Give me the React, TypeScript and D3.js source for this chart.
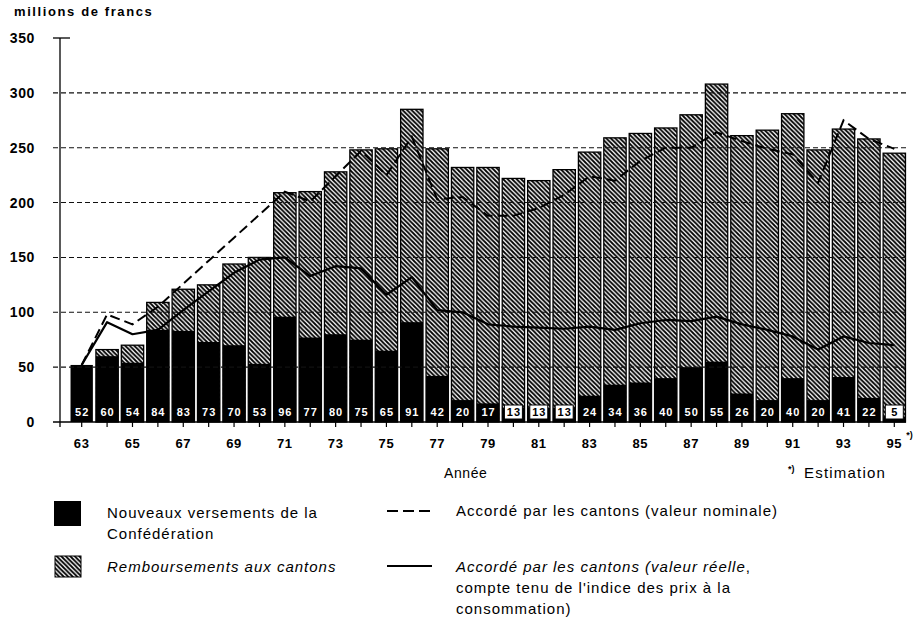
import * as d3 from 'd3'

// années 1963-1995 (95 = estimation)
const years = ['63', '64', '65', '66', '67', '68', '69', '70', '71', '72', '73', '74', '75', '76', '77', '78', '79',
  '80', '81', '82', '83', '84', '85', '86', '87', '88', '89', '90', '91', '92', '93', '94', '95']

// Nouveaux versements de la Confédération (mio fr.)
const newFed = [52, 60, 54, 84, 83, 73, 70, 53, 96, 77, 80, 75, 65, 91, 42, 20, 17, 13, 13, 13, 24, 34, 36, 40,
  50, 55, 26, 20, 40, 20, 41, 22, 5]

// Remboursements aux cantons (mio fr.)
const reimb = [0, 6, 16, 25, 38, 52, 74, 97, 113, 133, 148, 173, 184, 194, 207, 212, 215, 209, 207, 217, 222,
  225, 227, 228, 230, 253, 235, 246, 241, 228, 226, 236, 240]

// Accordé par les cantons, valeur nominale
const nominal = [52, 98, 89, 105, 126, 147, 168, 189, 210, 201, 224, 247, 225, 260, 203, 205, 188, 188, 195, 207,
  224, 220, 238, 250, 250, 264, 256, 249, 244, 218, 275, 258, 249]

// Accordé par les cantons, valeur réelle
const real = [52, 91, 80, 84, 102, 119, 136, 148, 150, 133, 142, 140, 116, 132, 102, 100, 89, 87, 86, 85, 87, 84,
  90, 93, 92, 96, 89, 84, 78, 66, 78, 72, 70]

const yTicks = [0, 50, 100, 150, 200, 250, 300, 350]
const gridValues = [50, 100, 150, 200, 250, 300]
const yearLabels = ['63', '65', '67', '69', '71', '73', '75', '77', '79', '81', '83', '85', '87', '89', '91', '93', '95']

const FONT = '"Liberation Sans", Arial, Helvetica, sans-serif'

export default function App() {
  const width = 921
  const height = 618

  const x = d3.scaleBand<string>().domain(years).range([69, 907]).paddingInner(0.12).paddingOuter(0.06)
  const y = d3.scaleLinear().domain([0, 350]).range([422, 38])
  const cx = (yr: string) => (x(yr) ?? 0) + x.bandwidth() / 2

  const line = d3.line<number>()
    .x((_, i) => cx(years[i]))
    .y(d => y(d))

  const axisLeft = 60
  const axisRight = 906

  return (
    <svg width={width} height={height} style={{ position: 'absolute', left: 0, top: 0, display: 'block', background: '#fff' }}
      fontFamily={FONT}>
      <defs>
        <pattern id="hatch" patternUnits="userSpaceOnUse" width={4.5} height={4.5}>
          <rect width={4.5} height={4.5} fill="#fff" />
          <path d="M-1,-1 L5.5,5.5 M-1,3.5 L1,5.5 M3.5,-1 L5.5,1" stroke="#000" strokeWidth={1.8} />
        </pattern>
      </defs>

      <text x={14} y={16} fontSize={13} fontWeight="bold" letterSpacing={1.6}>millions de francs</text>

      {/* y tick labels */}
      {yTicks.map(t => (
        <text key={t} x={35} y={y(t) + 5} fontSize={14} fontWeight="bold" textAnchor="end" letterSpacing={0.6}>{t}</text>
      ))}

      {/* bars */}
      {years.map((yr, i) => {
        const total = newFed[i] + reimb[i]
        const bx = x(yr) ?? 0
        const bw = x.bandwidth()
        return (
          <g key={yr}>
            {reimb[i] > 0 && (
              <rect x={bx} y={y(total)} width={bw} height={y(0) - y(total)} fill="url(#hatch)" stroke="#000" strokeWidth={1.3} />
            )}
            <rect x={bx} y={y(newFed[i])} width={bw} height={y(0) - y(newFed[i])} fill="#000" />
          </g>
        )
      })}

      {/* grid */}
      {gridValues.map(g => (
        <line key={g} x1={53} x2={axisRight} y1={y(g)} y2={y(g)} stroke="#111" strokeWidth={1.1} strokeDasharray="5,3" />
      ))}

      {/* axes */}
      <line x1={axisLeft} x2={axisLeft} y1={y(350)} y2={y(0) + 5} stroke="#000" strokeWidth={1.3} />
      <line x1={53} x2={70} y1={y(350)} y2={y(350)} stroke="#000" strokeWidth={1.3} />
      <line x1={53} x2={axisRight} y1={y(0)} y2={y(0)} stroke="#000" strokeWidth={1.3} />
      {years.map(yr => (
        <line key={yr} x1={cx(yr)} x2={cx(yr)} y1={y(0)} y2={y(0) + 5} stroke="#000" strokeWidth={1.2} />
      ))}

      {/* value labels inside black bars */}
      {years.map((yr, i) => {
        const v = newFed[i]
        const small = v < 15
        return (
          <g key={yr}>
            {small && (
              <rect x={cx(yr) - 9} y={y(0) - 17} width={18} height={14} fill="#fff" stroke="#000" strokeWidth={1} />
            )}
            <text x={cx(yr) + 0.5} y={y(0) - 6} fontSize={11} fontWeight="bold" textAnchor="middle" letterSpacing={1}
              fill={small ? '#000' : '#fff'}>{v}</text>
          </g>
        )
      })}

      {/* lines */}
      <path d={line(nominal) ?? ''} fill="none" stroke="#000" strokeWidth={2} strokeDasharray="10,5" />
      <path d={line(real) ?? ''} fill="none" stroke="#000" strokeWidth={2.2} strokeLinejoin="round" />

      {/* year labels */}
      {yearLabels.map(yr => (
        <text key={yr} x={cx(yr)} y={448} fontSize={13} fontWeight="bold" textAnchor="middle" letterSpacing={0.6}>{yr}</text>
      ))}
      <text x={cx('95') + 12} y={438} fontSize={9} fontWeight="bold">*)</text>

      <text x={444} y={478} fontSize={14} letterSpacing={0.6}>Année</text>
      <text x={788} y={472} fontSize={9} fontWeight="bold">*)</text>
      <text x={804} y={478} fontSize={15} letterSpacing={1.2}>Estimation</text>

      {/* legend */}
      <rect x={54} y={501} width={27} height={25} fill="#000" />
      <text x={107} y={518} fontSize={15} letterSpacing={1}>Nouveaux versements de la</text>
      <text x={107} y={539} fontSize={15} letterSpacing={1}>Confédération</text>

      <rect x={55} y={556} width={26} height={21} fill="url(#hatch)" stroke="#000" strokeWidth={1} />
      <text x={107} y={572} fontSize={15} fontStyle="italic" letterSpacing={1}>Remboursements aux cantons</text>

      <line x1={387} x2={432} y1={511} y2={511} stroke="#000" strokeWidth={2} strokeDasharray="11,5" />
      <text x={456} y={516} fontSize={15} letterSpacing={1}>Accordé par les cantons (valeur nominale)</text>

      <line x1={387} x2={432} y1={566} y2={566} stroke="#000" strokeWidth={2.2} />
      <text x={456} y={572} fontSize={15} letterSpacing={1}>
        <tspan fontStyle="italic">Accordé par les cantons (valeur réelle</tspan>,
      </text>
      <text x={456} y={593} fontSize={15} letterSpacing={1}>compte tenu de l'indice des prix à la</text>
      <text x={456} y={614} fontSize={15} letterSpacing={1}>consommation)</text>
    </svg>
  )
}
